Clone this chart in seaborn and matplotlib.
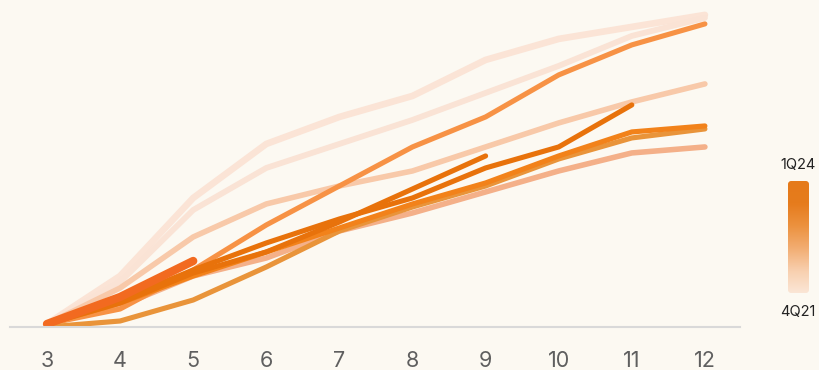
import numpy as np
import pandas as pd
import matplotlib
matplotlib.use("Agg")
import matplotlib.pyplot as plt
from matplotlib.colors import LinearSegmentedColormap
from matplotlib.patches import FancyBboxPatch
import seaborn as sns

sns.set_theme(style="white")
plt.rcParams['font.family'] = ['Inter', 'DejaVu Sans']

# ---- data ----
months = [3, 4, 5, 6, 7, 8, 9, 10, 11, 12]
cohorts = ["4Q21", "1Q22", "2Q22", "3Q22", "4Q22", "1Q23", "2Q23", "3Q23", "4Q23", "1Q24"]
v_4q21 = [1, 17, 43, 61, 70, 77, 89, 96, 100, 104]
v_1q22 = [1, 15, 39, 53, 61, 69, 78, 87, 97, 103]
v_2q22 = [1, 13, 30, 41, 47, 52, 60, 68, 75, 81]
v_3q22 = [1, 7, 17, 23, 32, 38, 45, 52, 58, 60]
v_4q22 = [1, 6, 19, 34, 47, 60, 70, 84, 94, 101]
v_1q23 = [0, 2, 9, 20, 32, 40, 47, 56, 63, 66]
v_2q23 = [1, 8, 17, 25, 33, 41, 48, 57, 65, 67]
v_3q23 = [1, 9, 19, 28, 36, 43, 53, 60, 74]
v_4q23 = [1, 8, 18, 25, 35, 46, 57]
v_1q24 = [1, 10, 22]
series = [v_4q21, v_1q22, v_2q22, v_3q22, v_4q22, v_1q23, v_2q23, v_3q23, v_4q23, v_1q24]

colors = ["#fbe4d6", "#fae3d5", "#f8c9a9", "#f4b089", "#f79245",
          "#e9943a", "#f2821a", "#e8720b", "#e8720b", "#f26a20"]
widths = [4.8, 4.2, 4.0, 4.0, 3.7, 3.7, 3.7, 3.7, 3.7, 6.0]

bg = "#fcf9f2"
fig = plt.figure(figsize=(8.2, 3.7), dpi=100, facecolor=bg)
ax = fig.add_axes([10/820, 43/370, 730/820, 322/370])
ax.set_facecolor(bg)

for name, vals, c, w in zip(cohorts, series, colors, widths):
    df = pd.DataFrame({"month": months[:len(vals)], "value": vals})
    sns.lineplot(data=df, x="month", y="value", ax=ax, color=c, lw=w,
                 solid_capstyle="round", solid_joinstyle="round", legend=False)

ax.set_xlim(2.494, 12.48)
ax.set_ylim(0, 107.3)
ax.set_xticks(months)
ax.set_xticklabels([str(m) for m in months])
ax.tick_params(axis="x", length=0, pad=17, labelsize=15.5, labelcolor="#5f5f5f")
ax.set_yticks([])
ax.set_xlabel("")
ax.set_ylabel("")
for s in ["top", "right", "left"]:
    ax.spines[s].set_visible(False)
ax.spines["bottom"].set_color("#d9d9d9")
ax.spines["bottom"].set_linewidth(1.5)

# ---- colour legend ----
cmap = LinearSegmentedColormap.from_list(
    "q", ["#fbe6d6", "#f8cfae", "#f2ad72", "#ec923f", "#e67c1d", "#e57a1a"])
cax = fig.add_axes([788/820, (370-293)/370, 21/820, 112/370])
cax.set_facecolor(bg)
grad = np.linspace(0, 1, 256).reshape(-1, 1)
im = cax.imshow(grad, aspect="auto", cmap=cmap, origin="lower",
                extent=[0, 1, 0, 1])
clip = FancyBboxPatch((0.0, 0.0), 1, 1, boxstyle="round,pad=0,rounding_size=0.15",
                      transform=cax.transAxes, facecolor="none", edgecolor="none",
                      mutation_aspect=21/112)
cax.add_patch(clip)
im.set_clip_path(clip)
cax.set_xlim(0, 1)
cax.set_ylim(0, 1)
cax.axis("off")
fig.text(798/820, 1 - 165/370, "1Q24", ha="center", va="center", fontsize=10.5, color="#222222")
fig.text(798/820, 1 - 312/370, "4Q21", ha="center", va="center", fontsize=10.5, color="#222222")

fig.savefig("out.png", dpi=100, facecolor=bg)
